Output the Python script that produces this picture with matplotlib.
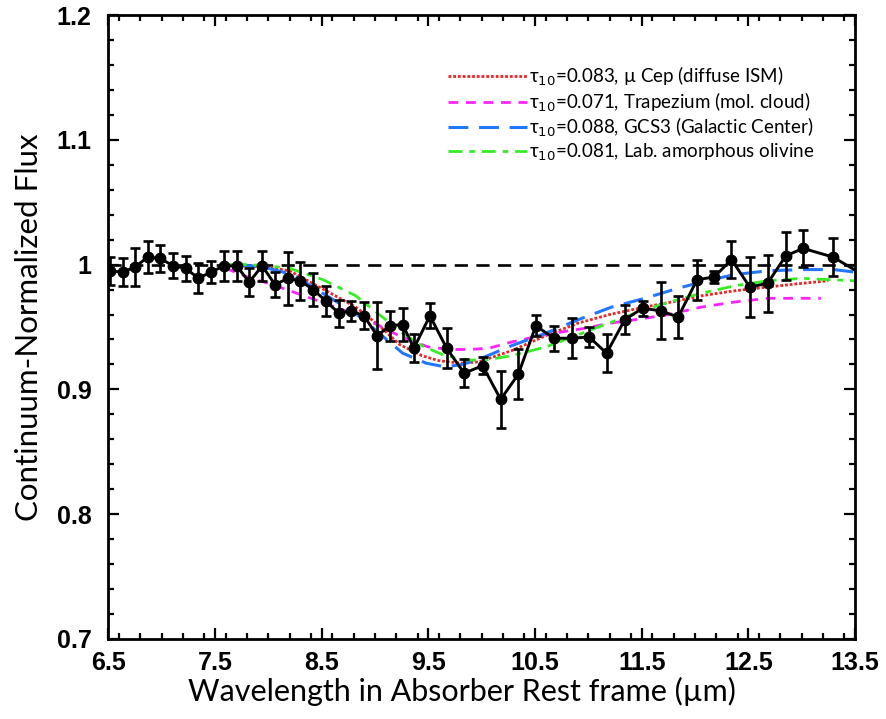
import matplotlib
matplotlib.use("Agg")
import matplotlib.pyplot as plt
from matplotlib.ticker import MultipleLocator, FixedLocator

# Beobachtete Spektrum (Ruhesystem des Absorbers)
wl = [6.516, 6.635, 6.750, 6.869, 6.985, 7.109, 7.228, 7.343, 7.463, 7.584,
      7.703, 7.821, 7.943, 8.062, 8.187, 8.297, 8.421, 8.537, 8.662, 8.775,
      8.896, 9.021, 9.140, 9.259, 9.365, 9.515, 9.672, 9.836, 10.009, 10.178,
      10.343, 10.508, 10.677, 10.843, 11.008, 11.171, 11.343, 11.508, 11.677,
      11.842, 12.020, 12.179, 12.342, 12.514, 12.680, 12.851, 13.014, 13.295,
      13.629]
flux = [0.995, 0.994, 0.998, 1.006, 1.005, 0.999, 0.997, 0.989, 0.994, 0.999,
        0.999, 0.986, 0.999, 0.984, 0.989, 0.987, 0.980, 0.971, 0.961, 0.963,
        0.959, 0.943, 0.951, 0.952, 0.933, 0.959, 0.933, 0.913, 0.919, 0.892,
        0.912, 0.951, 0.941, 0.941, 0.942, 0.929, 0.956, 0.965, 0.963, 0.958,
        0.988, 0.990, 1.004, 0.982, 0.985, 1.007, 1.013, 1.006, 0.989]
err = [0.011, 0.011, 0.015, 0.013, 0.011, 0.010, 0.010, 0.012, 0.009, 0.012,
       0.012, 0.011, 0.012, 0.010, 0.021, 0.015, 0.013, 0.012, 0.011, 0.008,
       0.011, 0.027, 0.012, 0.013, 0.011, 0.010, 0.016, 0.011, 0.007, 0.023,
       0.020, 0.0085, 0.010, 0.016, 0.008, 0.015, 0.012, 0.006, 0.023, 0.017,
       0.016, 0.005, 0.015, 0.024, 0.023, 0.019, 0.015, 0.015, 0.015]

# Modellkurven (Silikat-Absorptionsprofile)
mucep_x = [7.58, 7.8, 8.0, 8.2, 8.5, 8.82, 9.04, 9.23, 9.44, 9.6, 9.8, 9.97,
           10.28, 10.6, 10.9, 11.2, 11.53, 11.84, 12.06, 12.37, 12.68, 13.0, 13.25]
mucep_y = [1.0, 0.999, 0.998, 0.995, 0.981, 0.966, 0.951, 0.936, 0.927, 0.923,
           0.921, 0.922, 0.931, 0.943, 0.953, 0.960, 0.966, 0.971, 0.975, 0.979,
           0.982, 0.985, 0.987]
trap_x = [7.6, 7.84, 8.0, 8.17, 8.5, 8.82, 9.04, 9.25, 9.5, 9.7, 9.88, 10.07,
          10.28, 10.6, 10.97, 11.2, 11.53, 11.75, 12.06, 12.37, 12.68, 13.18]
trap_y = [0.997, 0.989, 0.985, 0.980, 0.970, 0.960, 0.951, 0.942, 0.934, 0.932,
          0.932, 0.933, 0.938, 0.944, 0.949, 0.953, 0.957, 0.960, 0.966, 0.970,
          0.973, 0.973]
gcs3_x = [7.7, 7.84, 8.0, 8.23, 8.51, 8.82, 9.04, 9.26, 9.48, 9.66, 9.82, 10.0,
          10.28, 10.6, 10.91, 11.22, 11.53, 11.84, 12.06, 12.37, 12.68, 13.0,
          13.3, 13.5]
gcs3_y = [1.0, 0.999, 0.997, 0.992, 0.977, 0.961, 0.945, 0.929, 0.921, 0.918,
          0.920, 0.925, 0.935, 0.945, 0.956, 0.966, 0.973, 0.981, 0.986, 0.992,
          0.995, 0.996, 0.996, 0.994]
oliv_x = [7.55, 7.8, 8.0, 8.2, 8.51, 8.82, 9.04, 9.26, 9.44, 9.63, 9.82, 10.0,
          10.28, 10.6, 10.91, 11.22, 11.53, 11.84, 12.06, 12.37, 12.68, 13.0, 13.5]
oliv_y = [1.0, 1.0, 0.999, 0.997, 0.988, 0.975, 0.960, 0.945, 0.935, 0.928,
          0.924, 0.923, 0.927, 0.934, 0.944, 0.954, 0.964, 0.972, 0.977, 0.983,
          0.987, 0.989, 0.987]

labels = [
    "τ$_{10}$=0.083, µ Cep (diffuse ISM)",
    "τ$_{10}$=0.071, Trapezium (mol. cloud)",
    "τ$_{10}$=0.088, GCS3 (Galactic Center)",
    "τ$_{10}$=0.081, Lab. amorphous olivine",
]

fig = plt.figure(figsize=(8.86, 7.19), dpi=100)
ax = fig.add_axes([108.3 / 886, 1 - 639 / 719, (855 - 108.3) / 886, (639 - 15) / 719])

ax.plot([6.5, 13.5], [1.0, 1.0], color="black", lw=1.9,
        linestyle=(0, (5, 3.2)), zorder=1)

ax.plot(mucep_x, mucep_y, color="#ee2222", lw=2.0, linestyle=(0, (1, 0.7)),
        label=labels[0], zorder=2)
ax.plot(trap_x, trap_y, color="#ff22ff", lw=2.0, linestyle=(0, (3.5, 2.8)),
        label=labels[1], zorder=2)
ax.plot(gcs3_x, gcs3_y, color="#2277ff", lw=2.2, linestyle=(0, (6.5, 3.5)),
        label=labels[2], zorder=2)
ax.plot(oliv_x, oliv_y, color="#33ee22", lw=2.0, linestyle=(0, (5, 2.5, 2, 2.5)),
        label=labels[3], zorder=2)

ax.errorbar(wl, flux, yerr=err, color="black", lw=2.1, marker="o", ms=7.5,
            capsize=3.8, capthick=1.9, elinewidth=1.9, zorder=3)

ax.set_xlim(6.5, 13.5)
ax.set_ylim(0.7, 1.2)

ax.xaxis.set_major_locator(FixedLocator([6.5, 7.5, 8.5, 9.5, 10.5, 11.5, 12.5, 13.5]))
ax.xaxis.set_minor_locator(MultipleLocator(0.2))
ax.yaxis.set_major_locator(MultipleLocator(0.1))
ax.yaxis.set_minor_locator(MultipleLocator(0.02))
ax.set_xticklabels(["6.5", "7.5", "8.5", "9.5", "10.5", "11.5", "12.5", "13.5"])
ax.set_yticks([0.7, 0.8, 0.9, 1.0, 1.1, 1.2])
ax.set_yticklabels(["0.7", "0.8", "0.9", "1", "1.1", "1.2"])

for sp in ax.spines.values():
    sp.set_linewidth(2.0)

ax.tick_params(which="both", direction="in", top=True, right=True, width=1.6)
ax.tick_params(which="major", length=8)
ax.tick_params(which="minor", length=4.5)
ax.tick_params(axis="x", which="major", pad=9)
ax.tick_params(axis="y", which="major", pad=12)
for lab in ax.get_xticklabels() + ax.get_yticklabels():
    lab.set_fontfamily("Liberation Sans")
    lab.set_fontweight("bold")
    lab.set_fontsize(18)

lab_font = ["Lato", "DejaVu Sans"]
ax.set_xlabel("Wavelength in Absorber Rest frame (µm)", fontsize=22,
              family=lab_font, va="top")
ax.xaxis.set_label_coords(0.474, -0.061)
ax.set_ylabel("Continuum-Normalized Flux", fontsize=22.5, family=lab_font,
              labelpad=10)

ax.legend(loc="upper left", bbox_to_anchor=((448 - 108.3) / 746.7, 0.92),
          frameon=False, borderaxespad=0, borderpad=0, handlelength=4.2,
          handletextpad=0.1, labelspacing=0.12,
          prop={"family": lab_font, "size": 13.5})

fig.savefig("out.png", dpi=100)
